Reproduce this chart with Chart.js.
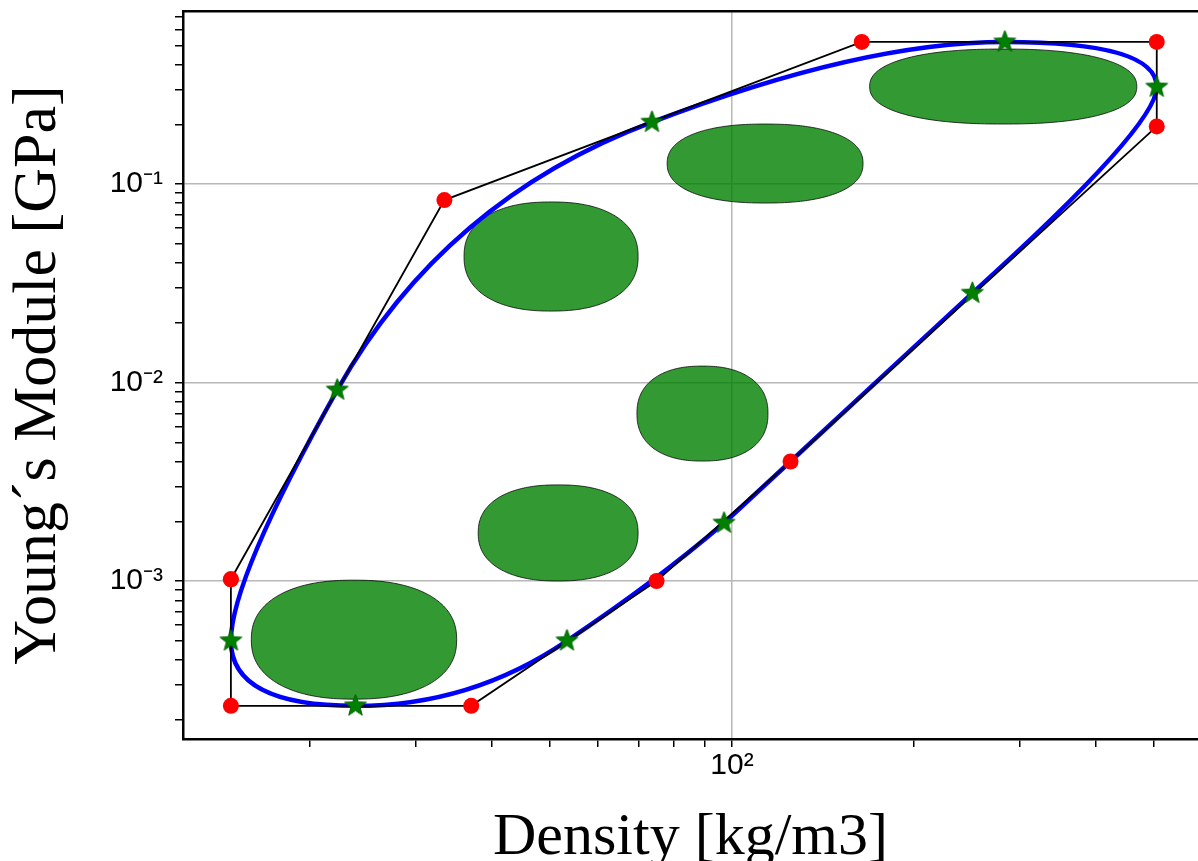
<!DOCTYPE html>
<html>
<head>
<meta charset="utf-8">
<script src="https://cdn.jsdelivr.net/npm/chart.js@4.4.1/dist/chart.umd.min.js"></script>
<style>
  html, body { margin: 0; padding: 0; background: #ffffff; }
  #wrap { width: 1198px; height: 861px; position: relative; }
  canvas { display: block; }
</style>
</head>
<body>
<div id="wrap"><canvas id="chart" width="1198" height="861"></canvas></div>
<script>
// ---- data ----
// axis limits
const densityMin = 12.33;
const densityMax = 591;
const modulusMin = 1.6e-4;
const modulusMax = 0.744;

// control polygon (red points), closed
const controlDensity = [14.8, 14.8, 37, 75, 125, 505, 505, 164, 33.4];
const controlModulus = [1.02e-3, 2.35e-4, 2.35e-4, 1.0e-3, 4.0e-3, 0.195, 0.52, 0.52, 0.083];

// curve points (green stars)
const curveDensity = [14.8, 23.8, 53.3, 97, 250, 505, 283, 73.7, 22.2];
const curveModulus = [5.0e-4, 2.35e-4, 5.0e-4, 1.96e-3, 0.0282, 0.308, 0.52, 0.205, 9.17e-3];

// material regions (green blobs): extents in data units
const regionDensityLow  = [16.0, 38.0, 69.6, 36.0, 78.1, 169];
const regionDensityHigh = [35.0, 69.9, 114.7, 69.9, 164.8, 468];
const regionModulusLow  = [2.54e-4, 1.0e-3, 4.02e-3, 0.0229, 0.0802, 0.2005];
const regionModulusHigh = [1.01e-3, 3.05e-3, 0.0121, 0.0812, 0.2005, 0.4786];

// ticks
const xTickValues = [20, 30, 40, 50, 60, 70, 80, 90, 100, 200, 300, 400, 500];
const xTickLabels = ['', '', '', '', '', '', '', '', '10²', '', '', '', ''];
const yTickValues = [2e-4, 3e-4, 4e-4, 5e-4, 6e-4, 7e-4, 8e-4, 9e-4,
                     1e-3, 2e-3, 3e-3, 4e-3, 5e-3, 6e-3, 7e-3, 8e-3, 9e-3,
                     1e-2, 2e-2, 3e-2, 4e-2, 5e-2, 6e-2, 7e-2, 8e-2, 9e-2,
                     1e-1, 0.2, 0.3, 0.4, 0.5, 0.6, 0.7];
const yTickLabels = ['', '', '', '', '', '', '', '',
                     '10⁻³', '', '', '', '', '', '', '', '',
                     '10⁻²', '', '', '', '', '', '', '', '',
                     '10⁻¹', '', '', '', '', '', ''];

// ---- markers ----
function makeStar(r, fill, edge) {
  const size = Math.ceil(r * 2 + 4);
  const c = document.createElement('canvas');
  c.width = size; c.height = size;
  const g = c.getContext('2d');
  g.translate(size / 2, size / 2);
  g.beginPath();
  for (let k = 0; k < 10; k++) {
    const rad = (k % 2 === 0) ? r : r * 0.42;
    const a = -Math.PI / 2 + k * Math.PI / 5;
    if (k === 0) g.moveTo(rad * Math.cos(a), rad * Math.sin(a));
    else g.lineTo(rad * Math.cos(a), rad * Math.sin(a));
  }
  g.closePath();
  g.fillStyle = fill;
  g.fill();
  g.lineWidth = 1;
  g.strokeStyle = edge;
  g.stroke();
  return c;
}
const starImg = makeStar(11.5, '#008000', '#006400');

const controlPoints = controlDensity.map((d, i) => ({ x: d, y: controlModulus[i] }));
const controlClosed = controlPoints.concat([controlPoints[0]]);
const curvePoints = curveDensity.map((d, i) => ({ x: d, y: curveModulus[i] }));

// ---- plugin: region blobs and the smooth closed curve ----
const shapesPlugin = {
  id: 'shapes',
  beforeDatasetsDraw(chart) {
    const { ctx, chartArea, scales } = chart;
    const sx = scales.x, sy = scales.y;
    ctx.save();
    ctx.beginPath();
    ctx.rect(chartArea.left, chartArea.top, chartArea.right - chartArea.left, chartArea.bottom - chartArea.top);
    ctx.clip();

    // blobs (superellipses)
    const expo = 2 / 2.3;
    for (let i = 0; i < regionDensityLow.length; i++) {
      const x0 = sx.getPixelForValue(regionDensityLow[i]);
      const x1 = sx.getPixelForValue(regionDensityHigh[i]);
      const y0 = sy.getPixelForValue(regionModulusLow[i]);
      const y1 = sy.getPixelForValue(regionModulusHigh[i]);
      const cx = (x0 + x1) / 2, cy = (y0 + y1) / 2;
      const a = Math.abs(x1 - x0) / 2, b = Math.abs(y1 - y0) / 2;
      ctx.beginPath();
      const N = 240;
      for (let k = 0; k <= N; k++) {
        const t = k / N * Math.PI * 2;
        const c = Math.cos(t), s = Math.sin(t);
        const px = cx + a * Math.sign(c) * Math.pow(Math.abs(c), expo);
        const py = cy + b * Math.sign(s) * Math.pow(Math.abs(s), expo);
        if (k === 0) ctx.moveTo(px, py); else ctx.lineTo(px, py);
      }
      ctx.closePath();
      ctx.fillStyle = 'rgba(0,128,0,0.8)';
      ctx.fill();
      ctx.lineWidth = 1;
      ctx.strokeStyle = 'rgba(0,0,0,0.75)';
      ctx.stroke();
    }

    // closed quadratic B-spline: passes through the stars, control points are the red points
    const n = controlDensity.length;
    const cpx = controlDensity.map(v => sx.getPixelForValue(v));
    const cpy = controlModulus.map(v => sy.getPixelForValue(v));
    const spx = curveDensity.map(v => sx.getPixelForValue(v));
    const spy = curveModulus.map(v => sy.getPixelForValue(v));
    ctx.beginPath();
    ctx.moveTo(spx[n - 1], spy[n - 1]);
    for (let i = 0; i < n; i++) {
      ctx.quadraticCurveTo(cpx[i], cpy[i], spx[i], spy[i]);
    }
    ctx.closePath();
    ctx.lineWidth = 4.5;
    ctx.strokeStyle = '#0000ff';
    ctx.lineJoin = 'round';
    ctx.stroke();
    ctx.restore();
  }
};

const tickFont = { family: 'Liberation Sans', size: 30 };

new Chart(document.getElementById('chart'), {
  type: 'scatter',
  data: {
    datasets: [
      {
        label: 'curve points',
        data: curvePoints,
        pointStyle: starImg,
        pointRadius: 12,
        pointHoverRadius: 12,
        showLine: false
      },
      {
        label: 'control polygon',
        type: 'line',
        data: controlClosed,
        showLine: true,
        fill: false,
        tension: 0,
        borderColor: '#000000',
        borderWidth: 1.8,
        pointRadius: 8,
        pointHoverRadius: 8,
        pointBackgroundColor: '#ff0000',
        pointBorderColor: '#ff0000',
        pointBorderWidth: 0
      }
    ]
  },
  options: {
    responsive: false,
    animation: false,
    devicePixelRatio: 1,
    layout: { autoPadding: false, padding: { top: 11, right: 0, bottom: 0, left: 0 } },
    plugins: {
      legend: { display: false },
      tooltip: { enabled: false }
    },
    scales: {
      x: {
        type: 'logarithmic',
        position: 'bottom',
        min: densityMin,
        max: densityMax,
        afterBuildTicks: s => { s.ticks = xTickValues.map(v => ({ value: v })); },
        afterFit: s => { s.height = 122; s.paddingLeft = 0; s.paddingRight = 0; },
        ticks: {
          autoSkip: false, maxRotation: 0, minRotation: 0, padding: 1,
          color: '#000000', font: tickFont,
          callback: (v, i) => xTickLabels[i]
        },
        grid: {
          color: c => (c.index !== undefined && xTickLabels[c.index]) ? '#b8b8b8' : 'rgba(0,0,0,0)',
          lineWidth: 1.5,
          tickColor: '#000000',
          tickWidth: 1.5,
          tickLength: 8,
          drawTicks: true
        },
        border: { display: true, color: '#000000', width: 2.5 },
        title: {
          display: true, text: 'Density [kg/m3]', color: '#000000',
          font: { family: 'Liberation Serif', size: 60, lineHeight: 1 },
          padding: { top: 0, bottom: -7 }
        }
      },
      xTop: {
        type: 'logarithmic',
        position: 'top',
        min: densityMin,
        max: densityMax,
        display: true,
        afterFit: s => { s.height = 0; s.paddingLeft = 0; s.paddingRight = 0; s.paddingTop = 0; s.paddingBottom = 0; },
        ticks: { display: false },
        grid: { display: false, drawTicks: false },
        border: { display: true, color: '#000000', width: 2.5 }
      },
      y: {
        type: 'logarithmic',
        position: 'left',
        min: modulusMin,
        max: modulusMax,
        afterBuildTicks: s => { s.ticks = yTickValues.map(v => ({ value: v })); },
        afterFit: s => { s.width = 183; s.paddingTop = 0; s.paddingBottom = 0; s.paddingLeft = 0; s.paddingRight = 0; },
        ticks: {
          autoSkip: false, padding: 12,
          color: '#000000', font: tickFont,
          callback: (v, i) => yTickLabels[i]
        },
        grid: {
          color: c => (c.index !== undefined && yTickLabels[c.index]) ? '#b8b8b8' : 'rgba(0,0,0,0)',
          lineWidth: 1.5,
          tickColor: '#000000',
          tickWidth: 1.5,
          tickLength: 8,
          drawTicks: true
        },
        border: { display: true, color: '#000000', width: 2.5 },
        title: {
          display: true, text: 'Young´s Module [GPa]', color: '#000000',
          font: { family: 'Liberation Serif', size: 62, lineHeight: 1 },
          padding: { top: 8, bottom: 0 }
        }
      }
    }
  },
  plugins: [shapesPlugin]
});
</script>
</body>
</html>
